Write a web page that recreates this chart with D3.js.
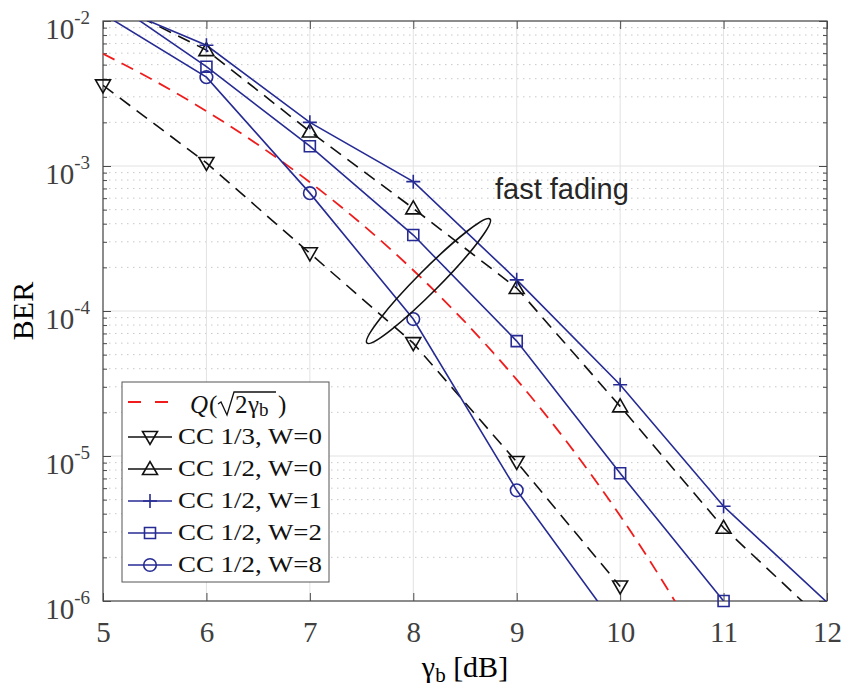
<!DOCTYPE html>
<html>
<head>
<meta charset="utf-8">
<script src="https://cdn.jsdelivr.net/npm/d3@7/dist/d3.min.js"></script>
<style>
  body { margin: 0; background: #fff; }
  svg { display: block; }
  .serif { font-family: "Liberation Serif", "Times New Roman", serif; }
</style>
</head>
<body>
<div id="root"></div>
<script>
// ---- data ----
const xTicks = [5, 6, 7, 8, 9, 10, 11, 12];
const yTicks = [1e-2, 1e-3, 1e-4, 1e-5, 1e-6];
const yTickExps = ["-2", "-3", "-4", "-5", "-6"];

// Q(sqrt(2 gamma_b)) reference curve
const snrQ = [5, 5.5, 6, 6.5, 7, 7.5, 8, 8.5, 9, 9.5, 10, 10.5, 11];
const berQ = [5.95e-3, 3.86e-3, 2.39e-3, 1.40e-3, 7.73e-4, 3.99e-4, 1.91e-4, 8.4e-5, 3.36e-5, 1.21e-5, 3.87e-6, 1.08e-6, 2.6e-7];

const snrCC13W0 = [5, 6, 7, 8, 9, 10];
const berCC13W0 = [3.6e-3, 1.05e-3, 2.5e-4, 6.0e-5, 9.1e-6, 1.26e-6];

const snrCC12W0 = [5, 6, 7, 8, 9, 10, 11, 12];
const berCC12W0 = [1.43e-2, 6.3e-3, 1.73e-3, 5.1e-4, 1.44e-4, 2.2e-5, 3.2e-6, 6.9e-7];

const snrCC12W1 = [5, 6, 7, 8, 9, 10, 11, 12];
const berCC12W1 = [1.36e-2, 6.8e-3, 2.0e-3, 7.8e-4, 1.64e-4, 3.1e-5, 4.5e-6, 9.8e-7];

const snrCC12W2 = [5, 6, 7, 8, 9, 10, 11];
const berCC12W2 = [1.5e-2, 4.84e-3, 1.37e-3, 3.34e-4, 6.2e-5, 7.6e-6, 1.0e-6];

const snrCC12W8 = [5, 6, 7, 8, 9, 10];
const berCC12W8 = [1.12e-2, 4.1e-3, 6.5e-4, 8.8e-5, 5.8e-6, 6.1e-7];

const legendLabels = ["CC 1/3, W=0", "CC 1/2, W=0", "CC 1/2, W=1", "CC 1/2, W=2", "CC 1/2, W=8"];

const BLUE = "#262b94";
const BLACK = "#111";
const RED = "#f01c1c";

const series = [
  { x: snrCC13W0, y: berCC13W0, color: BLACK, dash: "13,8", marker: "tridown" },
  { x: snrCC12W0, y: berCC12W0, color: BLACK, dash: "13,8", marker: "triup" },
  { x: snrCC12W1, y: berCC12W1, color: BLUE, dash: null, marker: "plus" },
  { x: snrCC12W2, y: berCC12W2, color: BLUE, dash: null, marker: "square" },
  { x: snrCC12W8, y: berCC12W8, color: BLUE, dash: null, marker: "circle" }
];

// ---- layout ----
const width = 845, height = 690;
const margins = { top: 21, right: 18, bottom: 89, left: 103 };
const x = d3.scaleLinear().domain([5, 12]).range([margins.left, width - margins.right]);
const y = d3.scaleLog().domain([1e-6, 1e-2]).range([height - margins.bottom, margins.top]);
const [x0, x1] = x.range();
const [y0, y1] = y.range(); // y0 bottom, y1 top

const yMinor = [];
for (let e = -6; e < -2; e++) for (let k = 2; k <= 9; k++) yMinor.push(k * Math.pow(10, e));

const svg = d3.select("#root").append("svg").attr("width", width).attr("height", height);

svg.append("clipPath").attr("id", "plot").append("rect")
  .attr("x", x0).attr("y", y1).attr("width", x1 - x0).attr("height", y0 - y1);

// grid
const grid = svg.append("g");
grid.selectAll(".minor").data(yMinor).join("line")
  .attr("x1", x0).attr("x2", x1).attr("y1", d => y(d)).attr("y2", d => y(d))
  .attr("stroke", "#c8c8c8").attr("stroke-width", 1).attr("stroke-dasharray", "1.5,4.5");
grid.selectAll(".hmaj").data(yTicks).join("line")
  .attr("x1", x0).attr("x2", x1).attr("y1", d => y(d)).attr("y2", d => y(d))
  .attr("stroke", "#e2e2e2").attr("stroke-width", 1);
grid.selectAll(".vmaj").data(xTicks).join("line")
  .attr("x1", d => x(d)).attr("x2", d => x(d)).attr("y1", y1).attr("y2", y0)
  .attr("stroke", "#e2e2e2").attr("stroke-width", 1);

// axes (ticks point inward)
const axisColor = "#4a4a4a";
function styleAxis(g) {
  g.select(".domain").remove();
  g.selectAll(".tick line").attr("stroke", axisColor);
}
svg.append("g").attr("transform", `translate(0,${y0})`)
  .call(d3.axisBottom(x).tickValues(xTicks).tickSize(-8).tickSizeOuter(0).tickPadding(20).tickFormat(d3.format("d")))
  .call(styleAxis)
  .call(g => g.selectAll(".tick text").attr("class", "serif").attr("font-size", 29).attr("fill", "#404040"));
svg.append("g").attr("transform", `translate(0,${y1})`)
  .call(d3.axisTop(x).tickValues(xTicks).tickSize(-8).tickSizeOuter(0).tickFormat(""))
  .call(styleAxis);

svg.append("g").attr("transform", `translate(${x0},0)`)
  .call(d3.axisLeft(y).tickValues(yTicks).tickSize(-8).tickSizeOuter(0).tickPadding(13).tickFormat(() => "10"))
  .call(styleAxis)
  .call(g => g.selectAll(".tick text")
    .attr("class", "serif").attr("font-size", 29).attr("fill", "#404040").attr("dy", "0.6em")
    .each(function (d, i) {
      d3.select(this).append("tspan").attr("font-size", 19).attr("dy", -15).text(yTickExps[i]);
    }));
svg.append("g").attr("transform", `translate(${x0},0)`)
  .call(d3.axisLeft(y).tickValues(yMinor).tickSize(-4).tickSizeOuter(0).tickFormat(""))
  .call(styleAxis);
svg.append("g").attr("transform", `translate(${x1},0)`)
  .call(d3.axisRight(y).tickValues(yTicks).tickSize(-8).tickSizeOuter(0).tickFormat(""))
  .call(styleAxis);
svg.append("g").attr("transform", `translate(${x1},0)`)
  .call(d3.axisRight(y).tickValues(yMinor).tickSize(-4).tickSizeOuter(0).tickFormat(""))
  .call(styleAxis);

svg.append("rect").attr("x", x0).attr("y", y1).attr("width", x1 - x0).attr("height", y0 - y1)
  .attr("fill", "none").attr("stroke", axisColor).attr("stroke-width", 1.2);

// axis labels
svg.append("text").attr("class", "serif").attr("font-size", 30).attr("fill", "#000")
  .attr("transform", `translate(33,${(y0 + y1) / 2}) rotate(-90)`).attr("text-anchor", "middle")
  .text("BER");
const xl = svg.append("text").attr("class", "serif").attr("font-size", 30).attr("fill", "#000")
  .attr("x", (x0 + x1) / 2).attr("y", 677).attr("text-anchor", "middle");
xl.append("tspan").text("γ");
xl.append("tspan").attr("font-size", 21).attr("dy", 5).text("b");
xl.append("tspan").attr("dy", -5).text(" [dB]");

// markers
function markerPath(type) {
  switch (type) {
    case "tridown": return "M-7.5,-5.5L7.5,-5.5L0,7.5Z";
    case "triup": return "M-7.5,5.5L7.5,5.5L0,-7.5Z";
    case "plus": return "M-7,0L7,0M0,-7L0,7";
    case "square": return "M-5.5,-5.5L5.5,-5.5L5.5,5.5L-5.5,5.5Z";
    case "circle": return d3.arc()({ innerRadius: 0, outerRadius: 6.3, startAngle: 0, endAngle: 2 * Math.PI });
  }
}

const plot = svg.append("g").attr("clip-path", "url(#plot)");
const line = d3.line().x(d => x(d[0])).y(d => y(d[1]));

// red theoretical curve
plot.append("path")
  .datum(d3.zip(snrQ, berQ))
  .attr("d", line.curve(d3.curveMonotoneX))
  .attr("fill", "none").attr("stroke", RED).attr("stroke-width", 1.8).attr("stroke-dasharray", "13,8");
line.curve(d3.curveLinear);

series.forEach(s => {
  const pts = d3.zip(s.x, s.y);
  plot.append("path").datum(pts).attr("d", line)
    .attr("fill", "none").attr("stroke", s.color).attr("stroke-width", 1.6)
    .attr("stroke-dasharray", s.dash);
});
// markers are drawn unclipped so edge markers sit fully on the axis; those outside the y range are skipped
series.forEach(s => {
  svg.append("g").selectAll("path")
    .data(d3.zip(s.x, s.y).filter(d => d[1] >= 1e-6 * 0.999 && d[1] <= 1e-2 * 1.001))
    .join("path")
    .attr("transform", d => `translate(${x(d[0])},${y(d[1])})`)
    .attr("d", markerPath(s.marker))
    .attr("fill", "none").attr("stroke", s.color).attr("stroke-width", 1.6);
});

// fast fading annotation
const eA = [x(8.742), y(Math.pow(10, -3.366))];
const eB = [x(7.552), y(Math.pow(10, -4.221))];
const eC = [(eA[0] + eB[0]) / 2, (eA[1] + eB[1]) / 2];
const eLen = Math.hypot(eA[0] - eB[0], eA[1] - eB[1]) / 2;
const eAng = Math.atan2(eA[1] - eB[1], eA[0] - eB[0]) * 180 / Math.PI;
svg.append("ellipse")
  .attr("transform", `translate(${eC[0]},${eC[1]}) rotate(${eAng})`)
  .attr("rx", eLen).attr("ry", 11)
  .attr("fill", "none").attr("stroke", "#111").attr("stroke-width", 1.6);
svg.append("text").attr("x", x(8.79)).attr("y", y(Math.pow(10, -3.228)))
  .attr("font-family", "'Liberation Sans', Arial, sans-serif").attr("font-size", 29).attr("fill", "#262626")
  .text("fast fading");

// legend
const lg = svg.append("g");
lg.append("rect").attr("x", 122).attr("y", 382).attr("width", 207).attr("height", 200)
  .attr("fill", "#fff").attr("stroke", "#555").attr("stroke-width", 1);
const rowBase = [413, 444, 476, 508, 540, 572];

// row 0: red dashed, Q(sqrt(2 gamma_b))
lg.append("line").attr("x1", 128).attr("x2", 168).attr("y1", rowBase[0] - 11).attr("y2", rowBase[0] - 11)
  .attr("stroke", RED).attr("stroke-width", 1.8).attr("stroke-dasharray", "13,14");
const q = lg.append("g").attr("class", "serif").attr("font-size", 25).attr("fill", "#111");
const qb = rowBase[0];
q.append("text").attr("x", 190).attr("y", qb).attr("font-style", "italic").text("Q");
q.append("text").attr("x", 209).attr("y", qb).text("(");
q.append("path").attr("d", `M218,${qb - 9}L221,${qb - 11}L227,${qb + 2}L234,${qb - 21}L276,${qb - 21}`)
  .attr("fill", "none").attr("stroke", "#111").attr("stroke-width", 1.3);
q.append("text").attr("x", 235).attr("y", qb).text("2");
q.append("text").attr("x", 248).attr("y", qb).text("γ");
q.append("text").attr("x", 259).attr("y", qb + 3).attr("font-size", 19).text("b");
q.append("text").attr("x", 278).attr("y", qb).text(")");

series.forEach((s, i) => {
  const by = rowBase[i + 1];
  const cy = by - 7;
  lg.append("line").attr("x1", 128).attr("x2", 172).attr("y1", cy).attr("y2", cy)
    .attr("stroke", s.color).attr("stroke-width", 1.6);
  lg.append("path").attr("transform", `translate(150,${cy})`).attr("d", markerPath(s.marker))
    .attr("fill", "none").attr("stroke", s.color).attr("stroke-width", 1.6);
  lg.append("text").attr("class", "serif").attr("x", 178).attr("y", by)
    .attr("font-size", 24).attr("fill", "#111")
    .attr("textLength", 144).attr("lengthAdjust", "spacingAndGlyphs")
    .text(legendLabels[i]);
});
</script>
</body>
</html>
